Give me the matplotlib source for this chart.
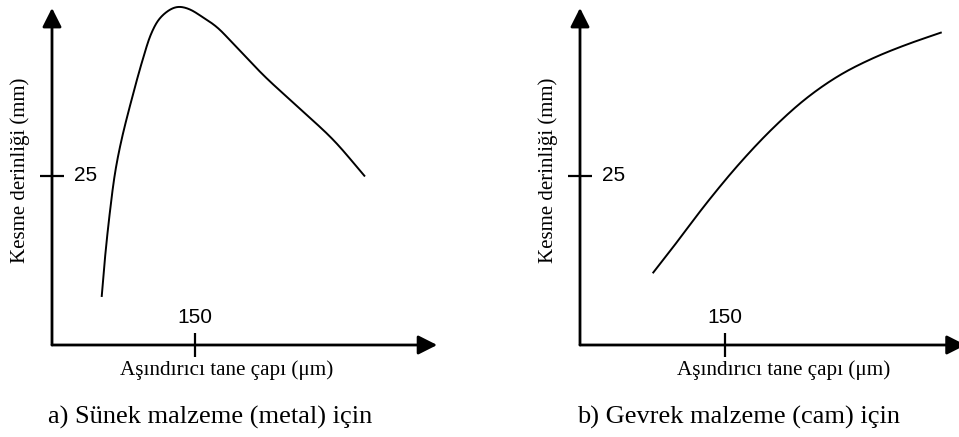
import numpy as np
import matplotlib
matplotlib.use("Agg")
import matplotlib.pyplot as plt

# ---- data ----
metal_x = [52.1, 55.4, 60.1, 66.1, 72.9, 83.4, 95.2, 104.6, 114.3, 130.8, 144.8, 155.2,
           172.8, 190.2, 207.7, 225.2, 260.1, 295.1, 328.3]
metal_y = [7.1, 12.6, 18.9, 25.4, 30.3, 36.2, 42.2, 46.2, 48.5, 50.0, 49.6, 48.7,
           47.0, 44.5, 41.9, 39.4, 34.9, 30.3, 24.9]

glass_x = [75.2, 96.5, 131.1, 165.5, 200.0, 234.5, 269.0, 303.4, 338.0, 374.2]
glass_y = [10.6, 14.5, 21.0, 26.9, 32.1, 36.5, 39.9, 42.4, 44.4, 46.2]

x_ticks = [150]
x_tick_labels = ["150"]
y_ticks = [25]
y_tick_labels = ["25"]

x_label = "Aşındırıcı tane çapı (μm)"
y_label = "Kesme derinliği (mm)"
captions = ["a) Sünek malzeme (metal) için", "b) Gevrek malzeme (cam) için"]

W, H = 959, 437
fig = plt.figure(figsize=(W / 100, H / 100), dpi=100)

serif = ["Liberation Serif", "DejaVu Serif"]
sans = ["Liberation Sans", "DejaVu Sans"]


def catmull(px, py):
    pts = np.column_stack([px, py])
    P = np.vstack([pts[0] * 2 - pts[1], pts, pts[-1] * 2 - pts[-2]])
    out = []
    for i in range(1, len(P) - 2):
        p0, p1, p2, p3 = P[i - 1], P[i], P[i + 1], P[i + 2]
        a = 0.5
        t0 = 0.0
        t1 = t0 + np.linalg.norm(p1 - p0) ** a
        t2 = t1 + np.linalg.norm(p2 - p1) ** a
        t3 = t2 + np.linalg.norm(p3 - p2) ** a
        t = np.linspace(t1, t2, 40, endpoint=False)[:, None]
        A1 = (t1 - t) / (t1 - t0) * p0 + (t - t0) / (t1 - t0) * p1
        A2 = (t2 - t) / (t2 - t1) * p1 + (t - t1) / (t2 - t1) * p2
        A3 = (t3 - t) / (t3 - t2) * p2 + (t - t2) / (t3 - t2) * p3
        B1 = (t2 - t) / (t2 - t0) * A1 + (t - t0) / (t2 - t0) * A2
        B2 = (t3 - t) / (t3 - t1) * A2 + (t - t1) / (t3 - t1) * A3
        out.append((t2 - t) / (t2 - t1) * B1 + (t - t1) / (t2 - t1) * B2)
    out.append(pts[-1][None, :])
    out = np.vstack(out)
    return out[:, 0], out[:, 1]


def smooth(xs, ys, sx, sy, sigma):
    """Spline through the read points, resampled and lightly Gaussian-smoothed (screen units)."""
    px, py = catmull(np.asarray(xs, float) * sx, np.asarray(ys, float) * sy)
    d = np.hypot(np.diff(px), np.diff(py))
    s = np.concatenate([[0], np.cumsum(d)])
    ss = np.append(np.arange(0, s[-1], 0.5), s[-1])
    rx = np.interp(ss, s, px)
    ry = np.interp(ss, s, py)
    n = int(sigma * 2 * 4)
    k = np.arange(-n, n + 1)
    g = np.exp(-0.5 * (k * 0.5 / sigma) ** 2)
    g /= g.sum()

    def filt(a):
        left = 2 * a[0] - a[1:n + 1][::-1]
        right = 2 * a[-1] - a[-n - 1:-1][::-1]
        return np.convolve(np.concatenate([left, a, right]), g, mode="valid")

    return filt(rx) / sx, filt(ry) / sy


def make_panel(left_px, right_px, tick_px, xmax_arrow, xs, ys, sigma, ylab_x, xlab_cx):
    bottom_px, top_px = 345, 10
    ymax = 49.5
    ax = fig.add_axes([left_px / W, (H - bottom_px) / H,
                       (right_px - left_px) / W, (bottom_px - top_px) / H])
    xr = (right_px - left_px) * 150 / (tick_px - left_px)
    ax.set_xlim(0, xr)
    ax.set_ylim(0, ymax)
    for s in ax.spines.values():
        s.set_visible(False)
    ax.patch.set_alpha(0)

    arrow_kw = dict(arrowstyle="-|>,head_length=1.15,head_width=0.58", lw=2.0,
                    color="black", shrinkA=0, shrinkB=0, mutation_scale=10)
    ax.annotate("", xy=(xmax_arrow, 0), xytext=(0, 0), arrowprops=arrow_kw,
                annotation_clip=False)
    ax.annotate("", xy=(0, ymax + 0.3), xytext=(0, 0), arrowprops=arrow_kw,
                annotation_clip=False)

    ax.set_xticks(x_ticks)
    ax.set_yticks(y_ticks)
    ax.set_xticklabels([])
    ax.set_yticklabels([])
    ax.tick_params(direction="inout", length=17, width=1.6, color="black")

    for v, lab in zip(x_ticks, x_tick_labels):
        ax.annotate(lab, xy=(v, 0), xytext=(0, 20), textcoords="offset points",
                    ha="center", va="center", fontsize=15, family=sans)
    for v, lab in zip(y_ticks, y_tick_labels):
        ax.annotate(lab, xy=(0, v), xytext=(16, 0), textcoords="offset points",
                    ha="left", va="center", fontsize=15, family=sans)

    sx = (right_px - left_px) / xr
    sy = (bottom_px - top_px) / ymax
    cx, cy = smooth(xs, ys, sx, sy, sigma)
    ax.plot(cx, cy, color="black", lw=1.4, clip_on=False, solid_capstyle="butt")

    fig.text(ylab_x / W, 1 - 170 / H, y_label, rotation=90, ha="center", va="center",
             fontsize=15, family=serif)
    fig.text(xlab_cx / W, 1 - 370 / H, x_label, ha="center", va="center",
             fontsize=15.2, family=serif)
    return ax


make_panel(52, 437, 195, 404, metal_x, metal_y, 4.0, 20, 227)
make_panel(580, 959, 725, 399, glass_x, glass_y, 6.0, 548, 784)

fig.text(210 / W, 1 - 417 / H, captions[0], ha="center", va="center", fontsize=19, family=serif)
fig.text(739 / W, 1 - 417 / H, captions[1], ha="center", va="center", fontsize=19, family=serif)

fig.savefig("out.png", dpi=100)
